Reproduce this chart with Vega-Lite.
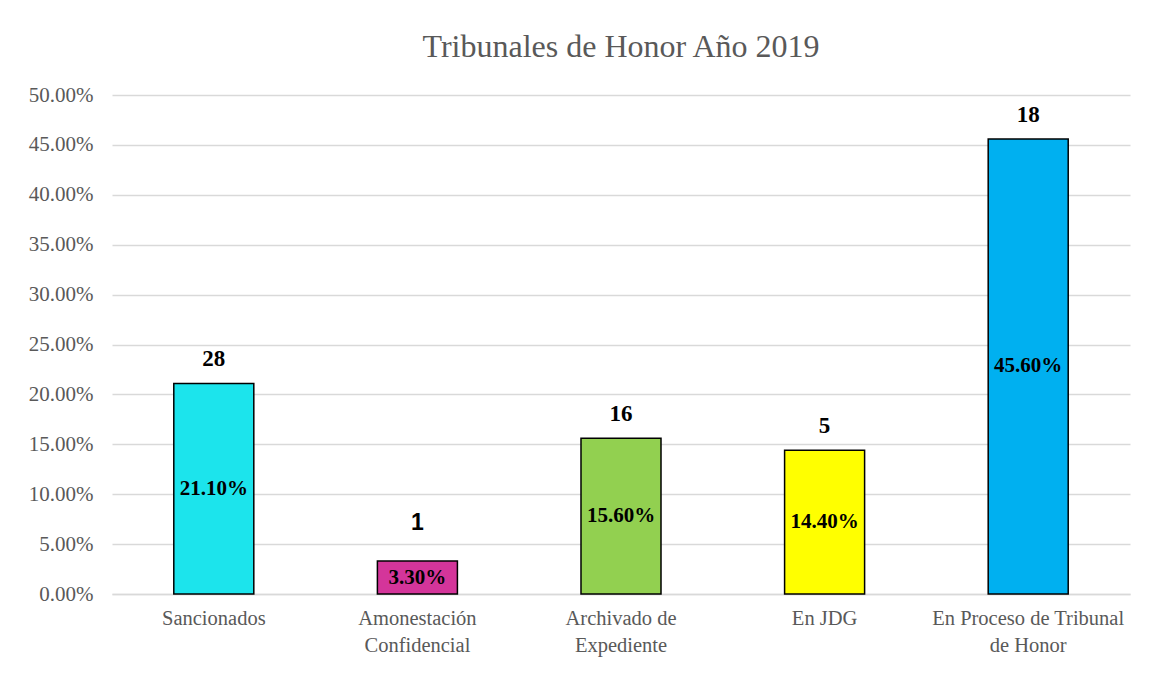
{
  "$schema": "https://vega.github.io/schema/vega-lite/v6.json",
  "width": 1018,
  "height": 499,
  "autosize": {"type": "none"},
  "padding": {"left": 112, "top": 95, "right": 25, "bottom": 89},
  "background": "white",
  "title": {
    "text": "Tribunales de Honor Año 2019",
    "font": "Liberation Serif",
    "fontSize": 32,
    "fontWeight": "normal",
    "color": "#595959",
    "anchor": "middle",
    "offset": 20
  },
  "data": {
    "values": [
      {"categoria": "Sancionados", "pct": 0.211, "n": "28"},
      {"categoria": "Amonestación Confidencial", "pct": 0.033, "n": "1"},
      {"categoria": "Archivado de Expediente", "pct": 0.156, "n": "16"},
      {"categoria": "En JDG", "pct": 0.144, "n": "5"},
      {"categoria": "En Proceso de Tribunal de Honor", "pct": 0.456, "n": "18"}
    ]
  },
  "encoding": {
    "x": {
      "field": "categoria",
      "type": "nominal",
      "sort": null,
      "scale": {"paddingInner": 0.607, "paddingOuter": 0.3035},
      "axis": {
        "title": null,
        "labelAngle": 0,
        "labelFont": "Liberation Serif",
        "labelFontSize": 20.5,
        "labelColor": "#595959",
        "labelPadding": 14,
        "labelLineHeight": 27,
        "labelLimit": 0,
        "ticks": false,
        "domainColor": "#d9d9d9",
        "domainWidth": 1.5,
        "labelExpr": "datum.value == 'Amonestación Confidencial' ? ['Amonestación', 'Confidencial'] : datum.value == 'Archivado de Expediente' ? ['Archivado de', 'Expediente'] : datum.value == 'En Proceso de Tribunal de Honor' ? ['En Proceso de Tribunal', 'de Honor'] : datum.value"
      }
    }
  },
  "layer": [
    {
      "mark": {"type": "bar", "stroke": "black", "strokeWidth": 1.5},
      "encoding": {
        "y": {
          "field": "pct",
          "type": "quantitative",
          "scale": {"domain": [0, 0.5]},
          "axis": {
            "title": null,
            "format": ".2%",
            "values": [0, 0.05, 0.1, 0.15, 0.2, 0.25, 0.3, 0.35, 0.4, 0.45, 0.5],
            "labelFont": "Liberation Serif",
            "labelFontSize": 21,
            "labelColor": "#595959",
            "labelPadding": 19,
            "ticks": false,
            "domain": false,
            "gridColor": "#d9d9d9",
            "gridWidth": 1.5
          }
        },
        "color": {
          "field": "categoria",
          "type": "nominal",
          "sort": null,
          "legend": null,
          "scale": {
            "domain": ["Sancionados", "Amonestación Confidencial", "Archivado de Expediente", "En JDG", "En Proceso de Tribunal de Honor"],
            "range": ["#1CE4EC", "#D4359A", "#92D050", "#FFFF00", "#00B0F0"]
          }
        }
      }
    },
    {
      "transform": [{"calculate": "datum.pct / 2", "as": "mid"}],
      "mark": {"type": "text", "font": "Liberation Serif", "fontWeight": "bold", "fontSize": 21, "color": "black", "baseline": "middle"},
      "encoding": {
        "y": {"field": "mid", "type": "quantitative"},
        "text": {"field": "pct", "type": "quantitative", "format": ".2%"}
      }
    },
    {
      "transform": [{"filter": "datum.n != '1'"}],
      "mark": {"type": "text", "font": "Liberation Serif", "fontWeight": "bold", "fontSize": 23, "color": "black", "baseline": "bottom", "dy": -12},
      "encoding": {
        "y": {"field": "pct", "type": "quantitative"},
        "text": {"field": "n", "type": "nominal"}
      }
    },
    {
      "transform": [{"filter": "datum.n == '1'"}],
      "mark": {"type": "text", "font": "Liberation Sans", "fontWeight": "bold", "fontSize": 23, "color": "black", "baseline": "bottom", "dy": -26},
      "encoding": {
        "y": {"field": "pct", "type": "quantitative"},
        "text": {"field": "n", "type": "nominal"}
      }
    }
  ],
  "config": {
    "view": {"stroke": null}
  }
}
